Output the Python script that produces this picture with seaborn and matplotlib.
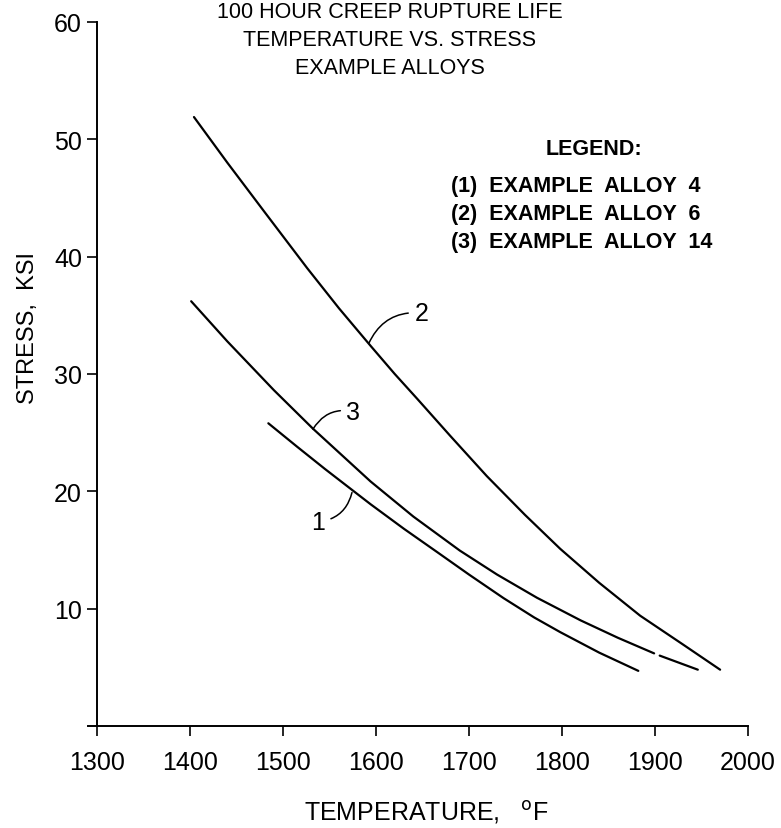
import pandas as pd
import matplotlib
matplotlib.use('Agg')
import matplotlib.pyplot as plt
import seaborn as sns

# values (temperature F, stress ksi)
alloy4_temp = [1484, 1515, 1545, 1594, 1630, 1666, 1700, 1737, 1770, 1798, 1840, 1882]
alloy4_stress = [25.8, 23.8, 21.9, 18.9, 16.8, 14.8, 12.9, 10.9, 9.25, 8.0, 6.25, 4.7]

alloy6_temp = [1404, 1440, 1480, 1526, 1560, 1594, 1620, 1644, 1680, 1719, 1760, 1798,
               1840, 1884, 1930, 1970]
alloy6_stress = [51.9, 48.0, 43.8, 39.0, 35.6, 32.4, 30.0, 27.9, 24.7, 21.3, 18.0, 15.1,
                 12.2, 9.4, 6.95, 4.8]

# alloy 14 has a small break in the drawn line near 1900 F
alloy14_temp = [1401, 1440, 1490, 1532, 1594, 1640, 1690, 1730, 1773, 1820, 1860,
                1899, 1905, 1946]
alloy14_stress = [36.2, 32.77, 28.62, 25.34, 20.84, 17.85, 14.95, 12.91, 10.93, 9.0, 7.52,
                  6.19, 6.0, 4.8]
alloy14_seg = [0] * 12 + [1, 1]

curve_labels = ['1', '2', '3']
legend_lines = ['(1)  EXAMPLE  ALLOY  4', '(2)  EXAMPLE  ALLOY  6', '(3)  EXAMPLE  ALLOY  14']
title_lines = ['100 HOUR CREEP RUPTURE LIFE', 'TEMPERATURE VS. STRESS', 'EXAMPLE ALLOYS']
x_ticks = [1300, 1400, 1500, 1600, 1700, 1800, 1900, 2000]
y_ticks = [10, 20, 30, 40, 50, 60]

df = pd.concat([
    pd.DataFrame({'temp': alloy4_temp, 'stress': alloy4_stress, 'seg': 'A4'}),
    pd.DataFrame({'temp': alloy6_temp, 'stress': alloy6_stress, 'seg': 'A6'}),
    pd.DataFrame({'temp': alloy14_temp, 'stress': alloy14_stress,
                  'seg': ['A14_%d' % s for s in alloy14_seg]}),
], ignore_index=True)

sns.set_style('ticks')
sans = ['Liberation Sans', 'DejaVu Sans']
plt.rcParams['font.family'] = sans
plt.rcParams['text.color'] = 'black'

fig = plt.figure(figsize=(7.81, 8.29), dpi=100)
ax = fig.add_axes([88 / 781, 102 / 829, (748 - 88) / 781, (727 - 23) / 829])

sns.lineplot(data=df, x='temp', y='stress', units='seg', estimator=None,
             color='black', linewidth=1.6, sort=False, ax=ax, legend=False)

ax.set_xlim(1290, 2000)
ax.set_ylim(0, 60)
ax.spines['left'].set_position(('data', 1300))
ax.spines['top'].set_visible(False)
ax.spines['right'].set_visible(False)
for s in ['left', 'bottom']:
    ax.spines[s].set_linewidth(1.4)
    ax.spines[s].set_color('black')

ax.set_xticks(x_ticks)
ax.set_yticks(y_ticks)
ax.tick_params(axis='both', direction='out', length=7, width=1.2, colors='black',
               labelsize=18, pad=4)
ax.tick_params(axis='x', pad=10)
ax.set_xlabel('')
ax.set_ylabel('')

# axis titles
fig.text(28 / 781, 1 - 328 / 829, 'STRESS,  KSI', rotation=90, ha='center', va='center',
         fontsize=17)
fig.text(426 / 781, 1 - 812 / 829, 'TEMPERATURE,   $^{\\mathrm{o}}$F', ha='center', va='center',
         fontsize=18)

# three-line title at the top
title_y = [12, 40, 69]
for line, yy in zip(title_lines, title_y):
    fig.text(390 / 781, 1 - yy / 829, line, ha='center', va='center', fontsize=15.5)

# legend block
ax.text(1834, 49.2, 'LEGEND:', ha='center', va='center', fontsize=15.5, fontweight='bold')
for i, line in enumerate(legend_lines):
    ax.text(1680, 46.1 - 2.4 * i, line, ha='left', va='center', fontsize=15.5,
            fontweight='bold')

# numbered leaders onto the curves
leaders = [((1574, 19.9), (1545, 17.4), 'right'),
           ((1592, 32.6), (1641, 35.2), 'left'),
           ((1532, 25.3), (1568, 26.8), 'left')]
for lab, (xy, xyt, ha) in zip(curve_labels, leaders):
    ax.annotate(lab, xy=xy, xytext=xyt, ha=ha, va='center', fontsize=18,
                arrowprops=dict(arrowstyle='-', color='black', lw=1.1,
                                connectionstyle='arc3,rad=0.35', shrinkA=2, shrinkB=0))

fig.savefig('out.png', dpi=100)
